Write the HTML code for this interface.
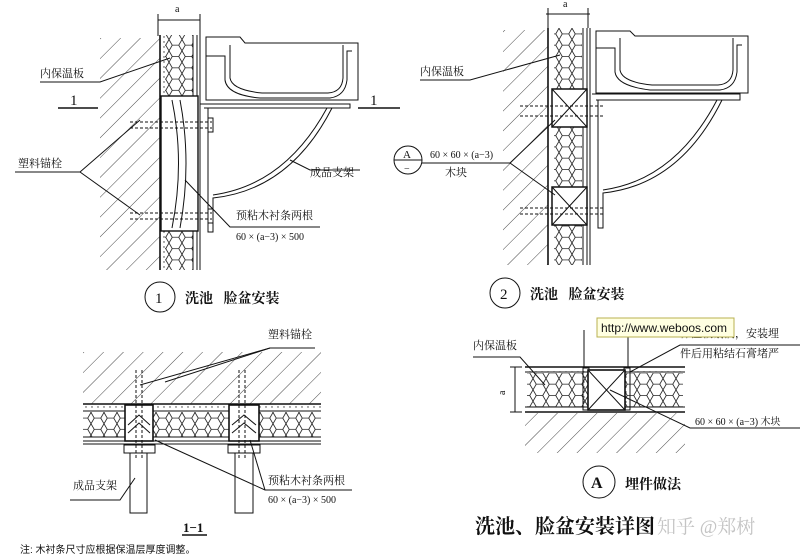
<!DOCTYPE html>
<html><head><meta charset="utf-8"><style>
html,body{margin:0;padding:0;background:#fff;}
svg{display:block;}
text{font-family:"Liberation Serif","Noto Serif CJK SC","Noto Sans CJK SC",serif;fill:#111;}
.s{font-family:"Liberation Sans","Noto Sans CJK SC",sans-serif;}
</style></head><body>
<svg width="805" height="559" viewBox="0 0 805 559" xmlns="http://www.w3.org/2000/svg">
<defs>
<pattern id="h" width="14" height="14" patternUnits="userSpaceOnUse" patternTransform="rotate(45)">
<line x1="0" y1="0" x2="0" y2="14" stroke="#333" stroke-width="0.9"/>
</pattern>
<pattern id="hex" width="13" height="11.3" patternUnits="userSpaceOnUse">
<path d="M3.25,0 L9.75,0 L13,5.65 L9.75,11.3 L3.25,11.3 L0,5.65 Z" fill="none" stroke="#222" stroke-width="0.8"/>
</pattern>
<pattern id="dot" width="6" height="5" patternUnits="userSpaceOnUse"><circle cx="2" cy="2" r="0.7" fill="#333"/></pattern>
</defs>
<g fill="none" stroke="#111" stroke-width="1">
<!-- ===== Diagram 1 ===== -->
<rect x="100" y="38" width="60" height="232" fill="url(#h)" stroke="none"/>
<line x1="160" y1="35" x2="160" y2="270" stroke-width="1.6"/>
<rect x="162" y="35" width="3" height="235" fill="url(#dot)" stroke="none"/>
<rect x="165" y="35" width="28" height="235" fill="url(#hex)" stroke="none"/>
<line x1="193" y1="35" x2="193" y2="270"/><line x1="197" y1="35" x2="197" y2="270"/><line x1="200" y1="35" x2="200" y2="270"/>
<rect x="161" y="96" width="37" height="135" fill="#fff" stroke-width="1.4"/>
<path d="M172,100 Q185,163 172,228 M180,100 Q192,163 180,228"/>
<line x1="130" y1="122" x2="212" y2="122" stroke-dasharray="3,2"/><line x1="130" y1="128" x2="212" y2="128" stroke-dasharray="3,2"/>
<line x1="130" y1="213" x2="212" y2="213" stroke-dasharray="3,2"/><line x1="130" y1="219" x2="212" y2="219" stroke-dasharray="3,2"/>
<rect x="208" y="118" width="5" height="14"/><rect x="208" y="209" width="5" height="14"/>
<line x1="158" y1="20" x2="200" y2="20"/><line x1="158" y1="14" x2="158" y2="36"/><line x1="200" y1="14" x2="200" y2="36"/>
<path d="M206,37 L240,37 L245,43 L358,43 L358,100 L206,100 Z"/>
<path d="M206,56 L225,56 L225,80 Q227,95 260,98 L330,98 Q345,96 347,80 L347,51 L352,51"/>
<path d="M230,45 L230,78 Q232,90 262,93 L328,93 Q342,92 343,78 L343,45"/>
<path d="M200,104 L350,104 L350,108 L204,108"/>
<path d="M208,108 L208,232 L213,232 L213,198 Q290,190 332,108 M213,195 Q285,185 327,108"/>
<line x1="58" y1="108" x2="98" y2="108" stroke-width="1.5"/><line x1="358" y1="108" x2="400" y2="108" stroke-width="1.5"/>
<polyline points="40,82 100,82 170,58"/>
<polyline points="15,172 80,172 140,120"/><line x1="80" y1="172" x2="140" y2="215"/>
<polyline points="360,170 310,170 290,160"/>
<polyline points="320,227 230,227 185,180"/>
<circle cx="160" cy="297" r="15"/>
<!-- ===== Diagram 2 ===== -->
<rect x="503" y="30" width="45" height="235" fill="url(#h)" stroke="none"/>
<line x1="548" y1="28" x2="548" y2="265" stroke-width="1.6"/>
<rect x="550" y="28" width="3" height="237" fill="url(#dot)" stroke="none"/>
<rect x="554" y="28" width="28" height="237" fill="url(#hex)" stroke="none"/>
<line x1="583" y1="28" x2="583" y2="265"/><line x1="587" y1="28" x2="587" y2="265"/><line x1="590" y1="28" x2="590" y2="265"/>
<rect x="552" y="89" width="35" height="38" fill="#fff" stroke-width="1.5"/><path d="M552,89 L587,127 M587,89 L552,127"/>
<rect x="552" y="187" width="35" height="38" fill="#fff" stroke-width="1.5"/><path d="M552,187 L587,225 M587,187 L552,225"/>
<line x1="520" y1="106" x2="604" y2="106" stroke-dasharray="3,2"/><line x1="520" y1="116" x2="604" y2="116" stroke-dasharray="3,2"/>
<line x1="520" y1="208" x2="604" y2="208" stroke-dasharray="3,2"/><line x1="520" y1="214" x2="604" y2="214" stroke-dasharray="3,2"/>
<line x1="546" y1="14" x2="590" y2="14"/><line x1="548" y1="8" x2="548" y2="28"/><line x1="588" y1="8" x2="588" y2="28"/>
<path d="M596,31 L630,31 L635,36 L748,36 L748,93 L596,93 Z"/>
<path d="M596,48 L615,48 L615,72 Q617,86 650,90 L720,90 Q735,88 737,72 L737,45 L742,45"/>
<path d="M620,38 L620,70 Q622,82 652,85 L718,85 Q732,84 733,70 L733,38"/>
<path d="M592,94 L740,94 L740,100 L596,100"/>
<path d="M598,100 L598,228 L603,228 L603,193 Q680,185 722,100 M603,190 Q675,180 717,100"/>
<polyline points="420,80 470,80 560,55"/>
<polyline points="422,163 510,163 555,120"/><line x1="510" y1="163" x2="555" y2="195"/>
<circle cx="408" cy="160" r="14"/><line x1="394" y1="160" x2="422" y2="160"/>
<circle cx="505" cy="293" r="15"/>
<!-- ===== Section 1-1 ===== -->
<rect x="83" y="352" width="238" height="52" fill="url(#h)" stroke="none"/>
<line x1="83" y1="404" x2="321" y2="404" stroke-width="1.6"/>
<rect x="83" y="405" width="238" height="6" fill="url(#dot)" stroke="none"/>
<line x1="83" y1="411" x2="321" y2="411"/>
<rect x="83" y="412" width="238" height="25" fill="url(#hex)" stroke="none"/>
<line x1="83" y1="437" x2="321" y2="437"/><line x1="83" y1="441" x2="321" y2="441"/><line x1="83" y1="444" x2="321" y2="444"/>
<rect x="125" y="405" width="28" height="36" fill="#fff" stroke-width="1.6"/>
<rect x="229" y="405" width="30" height="36" fill="#fff" stroke-width="1.6"/>
<path d="M128,425 L139,415 L150,425 M128,433 L139,423 L150,433 M232,425 L244,415 L256,425 M232,433 L244,423 L256,433"/>
<rect x="124" y="445" width="31" height="8"/><rect x="228" y="445" width="32" height="8"/>
<rect x="130" y="453" width="17" height="60"/><rect x="235" y="453" width="18" height="60"/>
<line x1="136" y1="370" x2="136" y2="460" stroke-dasharray="3,2"/><line x1="142" y1="370" x2="142" y2="460" stroke-dasharray="3,2"/>
<line x1="239" y1="370" x2="239" y2="460" stroke-dasharray="3,2"/><line x1="245" y1="370" x2="245" y2="460" stroke-dasharray="3,2"/>
<polyline points="315,348 270,348 140,385"/><line x1="270" y1="348" x2="165" y2="382"/>
<polyline points="352,490 265,490 155,440"/><line x1="265" y1="490" x2="250" y2="440"/>
<polyline points="70,500 120,500 135,478"/>
<line x1="182" y1="535" x2="207" y2="535" stroke-width="1.5"/>
<!-- ===== Detail A ===== -->
<line x1="525" y1="367" x2="685" y2="367" stroke-width="1.4"/>
<rect x="525" y="368" width="160" height="4" fill="url(#dot)" stroke="none"/>
<line x1="525" y1="372" x2="685" y2="372"/>
<rect x="527" y="373" width="156" height="34" fill="url(#hex)" stroke="none"/>
<line x1="525" y1="407" x2="685" y2="407"/><line x1="525" y1="412" x2="685" y2="412" stroke-width="1.4"/>
<rect x="525" y="413" width="160" height="40" fill="url(#h)" stroke="none"/>
<rect x="583" y="368" width="6" height="42" fill="url(#dot)"/><rect x="624" y="368" width="6" height="42" fill="url(#dot)"/>
<rect x="588" y="370" width="37" height="40" fill="#fff" stroke-width="1.6"/>
<path d="M588,370 L625,410 M625,370 L588,410"/>
<line x1="515" y1="367" x2="515" y2="412"/><line x1="510" y1="367" x2="522" y2="367"/><line x1="510" y1="412" x2="522" y2="412"/>
<line x1="584" y1="330" x2="584" y2="367"/><line x1="628" y1="330" x2="628" y2="367"/>
<polyline points="473,357 520,357 545,385"/>
<polyline points="800,345 680,345 630,372"/>
<polyline points="800,428 690,428 610,390"/>
<circle cx="599" cy="482" r="16"/>
</g>
<g font-size="11">
<text x="40" y="77">内保温板</text>
<text x="18" y="167">塑料锚栓</text>
<text x="70" y="105" font-size="15">1</text>
<text x="370" y="105" font-size="15">1</text>
<text x="310" y="176">成品支架</text>
<text x="236" y="219">预粘木衬条两根</text>
<text x="236" y="240" font-size="10">60 × (a−3) × 500</text>
<text x="175" y="12" font-size="10">a</text>
<text x="563" y="7" font-size="10">a</text>
<text x="420" y="75">内保温板</text>
<text x="403" y="158" font-size="11">A</text>
<text x="404" y="172" font-size="10">−</text>
<text x="430" y="158" font-size="10">60 × 60 × (a−3)</text>
<text x="445" y="176">木块</text>
<text x="268" y="338">塑料锚栓</text>
<text x="268" y="484">预粘木衬条两根</text>
<text x="268" y="503" font-size="10">60 × (a−3) × 500</text>
<text x="73" y="489">成品支架</text>
<text x="473" y="349">内保温板</text>
<text x="680" y="337">保温板剔洞，安装埋</text>
<text x="680" y="357">件后用粘结石膏堵严</text>
<text x="695" y="425" font-size="10">60 × 60 × (a−3) 木块</text>
<text x="505" y="395" font-size="10" transform="rotate(-90 505 395)">a</text>
<text x="20" y="553" font-size="10" class="s">注: 木衬条尺寸应根据保温层厚度调整。</text>
</g>
<rect x="597" y="318" width="137" height="19" fill="#ffffe1" stroke="#b8b050"/>
<text x="601" y="332" class="s" font-size="12">http://www.weboos.com</text>
<g class="s" font-weight="bold">
<text x="155" y="303" font-size="15" font-weight="normal">1</text>
<text x="185" y="303" font-size="14">洗池&#160;&#160;&#160;脸盆安装</text>
<text x="500" y="299" font-size="15" font-weight="normal">2</text>
<text x="530" y="299" font-size="14">洗池&#160;&#160;&#160;脸盆安装</text>
<text x="591" y="488" font-size="16">A</text>
<text x="625" y="489" font-size="14">埋件做法</text>
<text x="183" y="532" font-size="13">1−1</text>
<text x="475" y="533" font-size="20">洗池、脸盆安装详图</text>
<text x="657" y="533" font-size="19" font-weight="normal" style="fill:#c4c4c4">知乎 @郑树</text>
</g>
</svg>
</body></html>
